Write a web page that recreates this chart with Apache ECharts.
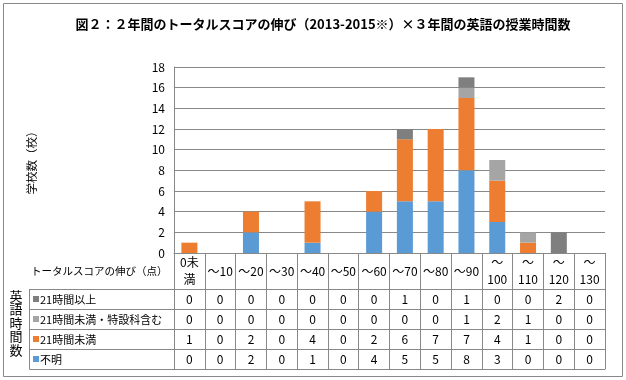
<!DOCTYPE html>
<html><head><meta charset="utf-8">
<script src="https://cdn.jsdelivr.net/npm/echarts@6/dist/echarts.min.js"></script>
<style>html,body{margin:0;padding:0;background:#fff}#c{width:626px;height:380px}</style>
</head><body><div id="c"></div>
<script>
// ---- data ----
const categories = ['0未\n満','～10','～20','～30','～40','～50','～60','～70','～80','～90','～\n100','～\n110','～\n120','～\n130'];
const over21        = [0,0,0,0,0,0,0,1,0,1,0,0,2,0];   // 21時間以上
const under21Special = [0,0,0,0,0,0,0,0,0,1,2,1,0,0];  // 21時間未満・特設科含む
const under21       = [1,0,2,0,4,0,2,6,7,7,4,1,0,0];   // 21時間未満
const unknown       = [0,0,2,0,1,0,4,5,5,8,3,0,0,0];   // 不明
const yMin = 0, yMax = 18, yStep = 2;
const titleText = '図２：２年間のトータルスコアの伸び（2013-2015※）×３年間の英語の授業時間数';
const yName = '学校数（校）';
const headerLabel = 'トータルスコアの伸び（点）';
const sideLabel = '英語時間数';

// table rows (top to bottom) and colours
const tableRows = [
  {name:'21時間以上', data: over21, color:'#7F7F7F'},
  {name:'21時間未満・特設科含む', data: under21Special, color:'#A5A5A5'},
  {name:'21時間未満', data: under21, color:'#ED7D31'},
  {name:'不明', data: unknown, color:'#5B9BD5'}
];
// stack order bottom to top
const stackOrder = [3,2,1,0];

// ---- layout ----
const FONT = '"Noto Sans CJK JP", "Noto Sans", sans-serif';
const LINE = '#888888';
const GL = 174, GT = 67, GR = 21, GB = 127;
const W = 626, H = 380;
const axisY = H - GB;           // 253
const HEADER_H = 36, ROW_H = 20;
const TABLE_LEFT = 29;

const chart = echarts.init(document.getElementById('c'), null, {renderer:'canvas'});

const xAxes = [{
  type:'category', data: categories, gridIndex:0, position:'bottom',
  axisLine:{show:true, lineStyle:{color:LINE, width:1}},
  axisTick:{show:true, length:HEADER_H, lineStyle:{color:LINE}},
  axisLabel:{interval:0, margin:HEADER_H/2, verticalAlign:'middle', lineHeight:17,
             fontSize:12, color:'#000', fontFamily:FONT},
  splitLine:{show:false}
}];
tableRows.forEach((r, i) => {
  xAxes.push({
    type:'category', data: categories, gridIndex:0, position:'bottom',
    offset: HEADER_H + ROW_H*i,
    axisLine:{show:true, lineStyle:{color:LINE, width:1}},
    axisTick:{show:true, length:ROW_H, lineStyle:{color:LINE}},
    axisLabel:{interval:0, margin:ROW_H/2, verticalAlign:'middle',
               fontSize:12, color:'#000', fontFamily:FONT,
               formatter:(v, idx) => String(r.data[idx])},
    splitLine:{show:false}
  });
});
xAxes.push({
  type:'category', data: categories, gridIndex:0, position:'bottom',
  offset: HEADER_H + ROW_H*tableRows.length,
  axisLine:{show:true, lineStyle:{color:LINE, width:1}},
  axisTick:{show:false}, axisLabel:{show:false}, splitLine:{show:false}
});

const graphics = [];
// outer border
graphics.push({type:'rect', shape:{x:3.5, y:3.5, width:619, height:373},
  style:{fill:null, stroke:LINE, lineWidth:1}, silent:true});
// header label
graphics.push({type:'text', x:TABLE_LEFT+2, y:axisY + HEADER_H/2,
  style:{text:headerLabel, font:'10.5px ' + FONT, fill:'#000', textVerticalAlign:'middle', textAlign:'left'}});
// left table lines
for (let i = 0; i <= tableRows.length; i++) {
  const y = Math.round(axisY + HEADER_H + ROW_H*i) + 0.5;
  graphics.push({type:'line', shape:{x1:TABLE_LEFT+0.5, y1:y, x2:GL, y2:y},
    style:{stroke:LINE, lineWidth:1}, silent:true});
}
graphics.push({type:'line', shape:{x1:TABLE_LEFT+0.5, y1:axisY+HEADER_H, x2:TABLE_LEFT+0.5, y2:axisY+HEADER_H+ROW_H*tableRows.length+0.5},
  style:{stroke:LINE, lineWidth:1}, silent:true});
// row labels
tableRows.forEach((r, i) => {
  const cy = axisY + HEADER_H + ROW_H*i + ROW_H/2;
  graphics.push({type:'rect', shape:{x:TABLE_LEFT+4, y:Math.round(cy)-3, width:6, height:6},
    style:{fill:r.color}, silent:true});
  graphics.push({type:'text', x:TABLE_LEFT+11, y:cy + 0.5,
    style:{text:r.name, font:'11px ' + FONT, fill:'#000', textVerticalAlign:'middle', textAlign:'left'}});
});
// side vertical label
graphics.push({type:'text', x:16, y:axisY + HEADER_H + ROW_H*tableRows.length/2 - 6,
  style:{text:sideLabel.split('').join('\n'), font:'13px ' + FONT, lineHeight:13.5, fill:'#000',
         textVerticalAlign:'middle', textAlign:'center'}});

const series = stackOrder.map(k => ({
  name: tableRows[k].name, type:'bar', stack:'total', xAxisIndex:0, yAxisIndex:0,
  data: tableRows[k].data, barWidth:'52%',
  itemStyle:{color: tableRows[k].color}, emphasis:{disabled:true}
}));

chart.setOption({
  animation:false,
  backgroundColor:'#fff',
  title:{text:titleText, left:318, top:13, textAlign:'center',
    textStyle:{fontSize:13, fontWeight:'bold', color:'#000', fontFamily:FONT}},
  grid:{left:GL, top:GT, right:GR, bottom:GB, containLabel:false},
  xAxis: xAxes,
  yAxis:{type:'value', min:yMin, max:yMax, interval:yStep,
    name:yName, nameLocation:'middle', nameRotate:90, nameGap:137,
    nameTextStyle:{fontSize:11.5, color:'#000', fontFamily:FONT},
    axisLine:{show:true, lineStyle:{color:LINE}}, axisTick:{show:false},
    axisLabel:{fontSize:12, color:'#000', margin:9, fontFamily:FONT},
    splitLine:{show:true, lineStyle:{color:LINE, width:1}}},
  series: series,
  graphic: graphics
});
</script></body></html>
